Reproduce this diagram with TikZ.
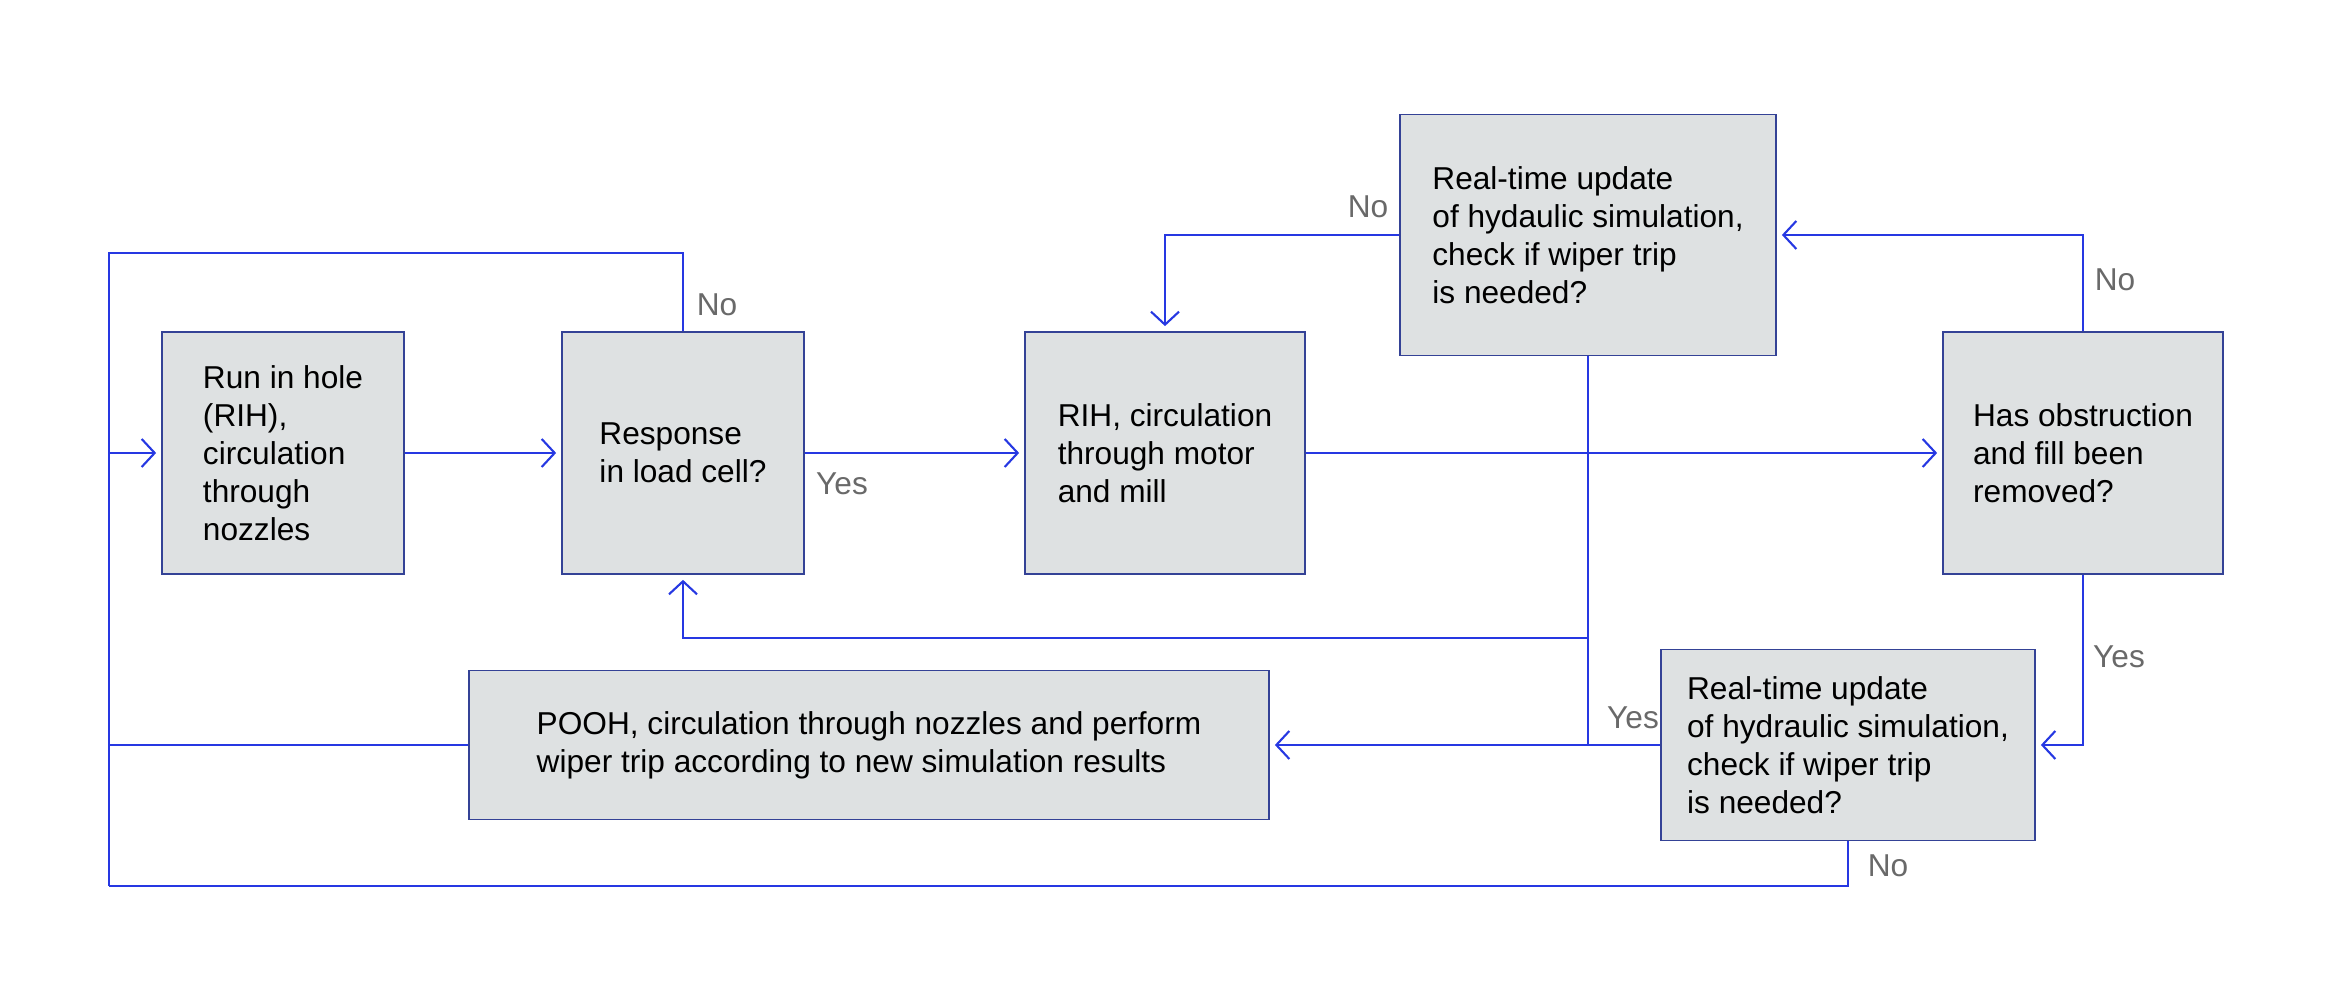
\documentclass[tikz,border=0pt]{standalone}
\usepackage{fontspec}
\setmainfont{Liberation Sans}
\usepackage{tikz}
\usetikzlibrary{positioning,arrows.meta}

\definecolor{flowblue}{RGB}{38,56,226}
\definecolor{boxfill}{RGB}{222,225,226}
\definecolor{boxline}{RGB}{52,66,150}
\definecolor{lblgray}{RGB}{105,105,105}

\begin{document}
\begin{tikzpicture}[
  every node/.style={font=\fontsize{9}{10.8}\selectfont},
  stepbox/.style={draw=boxline, fill=boxfill, line width=0.5pt, align=left, inner sep=0pt},
  lbl/.style={text=lblgray, inner sep=1pt},
  flow/.style={draw=flowblue, line width=0.6pt},
  >={Straight Barb[length=1.3mm,width=2.8mm]}]
  \useasboundingbox (0,0) rectangle (23.36,10);
  % process boxes
  \node[stepbox, minimum width=2.42cm, minimum height=2.42cm] (rih) at (2.83,5.47)
    {Run in hole\\(RIH),\\circulation\\through\\nozzles};
  \node[stepbox, minimum width=2.42cm, minimum height=2.42cm] (resp) at (6.83,5.47)
    {Response\\in load cell?};
  \node[stepbox, minimum width=2.80cm, minimum height=2.42cm] (mill) at (11.65,5.47)
    {RIH, circulation\\through motor\\and mill};
  \node[stepbox, minimum width=3.76cm, minimum height=2.41cm] (simtop) at (15.88,7.65)
    {Real-time update\\of hydaulic simulation,\\check if wiper trip\\is needed?};
  \node[stepbox, minimum width=2.80cm, minimum height=2.42cm] (obst) at (20.83,5.47)
    {Has obstruction\\and fill been\\removed?};
  \node[stepbox, minimum width=3.74cm, minimum height=1.91cm] (simbot) at (18.48,2.55)
    {Real-time update\\of hydraulic simulation,\\check if wiper trip\\is needed?};
  \node[stepbox, minimum width=8.00cm, minimum height=1.49cm] (pooh) at (8.69,2.55)
    {POOH, circulation through nozzles and perform\\wiper trip according to new simulation results};
  % loop corners
  \coordinate (tl) at (1.09,7.47);
  \coordinate (bl) at (1.09,1.14);
  \coordinate (split) at (15.88,3.62);
  % connectors
  \draw[flow] (resp.north) |- (tl) -- (bl);
  \draw[flow] (simbot.south) |- (bl);
  \draw[flow] (pooh.west) -- (pooh.west -| tl);
  \draw[flow] (simtop.south) -- (simtop.south |- simbot.west);
  \begin{scope}[shorten >=0.5mm]
  \draw[flow,->] (rih.west -| tl) -- (rih.west);
  \draw[flow,->] (rih) -- (resp);
  \draw[flow,->] (resp) -- (mill);
  \draw[flow,->] (mill) -- (obst);
  \draw[flow,->] (simtop.west) -| (mill.north);
  \draw[flow,->] (obst.north) |- (simtop.east);
  \draw[flow,->] (obst.south) |- (simbot.east);
  \draw[flow,->] (simbot.west) -- (pooh.east);
  \draw[flow,->] (split) -| (resp.south);
  \end{scope}
  % answers
  \node[lbl] (no1) at (7.17,6.95) {No};
  \node[lbl] (yes1) at (8.42,5.16) {Yes};
  \node[lbl] (no2) at (13.68,7.93) {No};
  \node[lbl] (no3) at (21.15,7.20) {No};
  \node[lbl] (yes2) at (21.19,3.43) {Yes};
  \node[lbl] (yes3) at (16.33,2.82) {Yes};
  \node[lbl] (no4) at (18.88,1.34) {No};
\end{tikzpicture}
\end{document}
